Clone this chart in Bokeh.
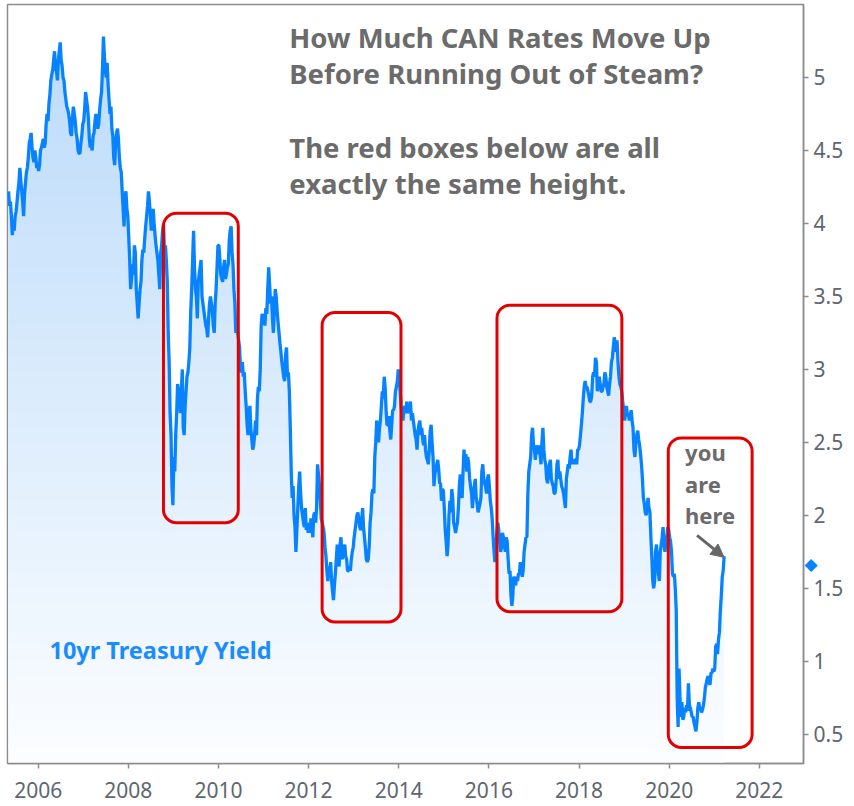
import numpy as np
from bokeh.plotting import figure
from bokeh.models import Range1d, FixedTicker, Label, Arrow, NormalHead, LinearAxis
from bokeh.embed import file_html
from bokeh.resources import INLINE

# 10yr Treasury yield, four readings per month (weekly)
yield_2005 = [4.22, 4.12, 4.15, 4.05, 3.92, 4.02, 3.95, 4.05, 4.08, 4.15, 4.22, 4.28,
              4.38, 4.30, 4.22, 4.15, 4.05, 4.20, 4.28, 4.35, 4.38, 4.45, 4.55, 4.58,
              4.62, 4.52, 4.45, 4.42, 4.50, 4.45, 4.38, 4.40]  # May-Dec
yield_2006 = [4.36, 4.40, 4.50, 4.52, 4.55, 4.58, 4.52, 4.55, 4.68, 4.75, 4.70, 4.82,
              4.88, 4.98, 5.02, 5.05, 5.12, 5.18, 5.05, 5.05, 4.98, 5.12, 5.18, 5.24,
              5.12, 5.08, 5.00, 4.98, 4.90, 4.85, 4.80, 4.78, 4.75, 4.70, 4.62, 4.60,
              4.72, 4.80, 4.75, 4.70, 4.62, 4.58, 4.50, 4.48, 4.48, 4.55, 4.60, 4.68]
yield_2007 = [4.70, 4.78, 4.90, 4.85, 4.80, 4.72, 4.58, 4.52, 4.55, 4.50, 4.60, 4.62,
              4.70, 4.75, 4.68, 4.65, 4.68, 4.78, 4.85, 4.90, 5.05, 5.28, 5.15, 5.05,
              5.00, 5.10, 4.95, 4.85, 4.75, 4.80, 4.65, 4.60, 4.45, 4.40, 4.55, 4.62,
              4.65, 4.58, 4.45, 4.38, 4.35, 4.22, 4.10, 3.98, 4.18, 4.22, 4.10, 4.05]
yield_2008 = [3.90, 3.75, 3.55, 3.62, 3.72, 3.65, 3.85, 3.80, 3.55, 3.45, 3.35, 3.45,
              3.55, 3.60, 3.75, 3.82, 3.80, 3.90, 3.98, 4.05, 4.12, 4.22, 4.15, 4.05,
              3.95, 4.05, 4.10, 4.00, 3.92, 3.85, 3.80, 3.75, 3.65, 3.55, 3.80, 3.85,
              3.95, 4.00, 3.80, 3.85, 3.75, 3.60, 3.25, 3.05, 2.70, 2.55, 2.20, 2.07]
yield_2009 = [2.40, 2.30, 2.55, 2.70, 2.90, 2.85, 2.80, 2.70, 2.85, 3.00, 2.60, 2.55,
              2.75, 2.85, 2.95, 2.98, 3.05, 3.15, 3.40, 3.55, 3.75, 3.95, 3.70, 3.55,
              3.50, 3.35, 3.60, 3.65, 3.70, 3.75, 3.50, 3.45, 3.40, 3.35, 3.30, 3.28,
              3.22, 3.35, 3.45, 3.50, 3.45, 3.40, 3.30, 3.25, 3.45, 3.55, 3.70, 3.85]
yield_2010 = [3.85, 3.75, 3.65, 3.62, 3.60, 3.70, 3.75, 3.62, 3.65, 3.70, 3.72, 3.88,
              3.95, 3.98, 3.80, 3.72, 3.55, 3.45, 3.25, 3.30, 3.25, 3.20, 3.15, 3.00,
              2.98, 3.05, 2.95, 2.98, 2.85, 2.75, 2.62, 2.55, 2.70, 2.75, 2.60, 2.52,
              2.45, 2.48, 2.55, 2.65, 2.55, 2.80, 2.88, 2.85, 3.00, 3.30, 3.38, 3.35]
yield_2011 = [3.35, 3.30, 3.42, 3.38, 3.55, 3.70, 3.58, 3.45, 3.50, 3.35, 3.25, 3.40,
              3.55, 3.50, 3.40, 3.32, 3.25, 3.18, 3.12, 3.05, 3.00, 2.95, 2.92, 3.10,
              3.15, 2.95, 2.98, 2.85, 2.60, 2.30, 2.12, 2.20, 2.00, 1.92, 1.75, 1.90,
              2.05, 2.20, 2.30, 2.15, 2.05, 2.00, 1.95, 1.92, 2.05, 1.90, 1.95, 1.88]
yield_2012 = [1.95, 1.88, 1.98, 1.92, 1.85, 2.00, 2.02, 1.95, 2.05, 2.35, 2.28, 2.20,
              2.10, 1.98, 1.95, 1.92, 1.88, 1.78, 1.72, 1.62, 1.55, 1.65, 1.62, 1.68,
              1.55, 1.48, 1.42, 1.52, 1.60, 1.70, 1.80, 1.68, 1.65, 1.80, 1.85, 1.70,
              1.72, 1.75, 1.80, 1.72, 1.70, 1.62, 1.62, 1.65, 1.62, 1.70, 1.75, 1.78]
yield_2013 = [1.85, 1.90, 1.95, 2.00, 2.02, 1.98, 1.92, 1.90, 1.95, 2.05, 1.92, 1.85,
              1.78, 1.70, 1.68, 1.70, 1.78, 1.95, 2.02, 2.15, 2.18, 2.15, 2.40, 2.50,
              2.65, 2.58, 2.50, 2.60, 2.65, 2.75, 2.85, 2.80, 2.95, 2.88, 2.72, 2.62,
              2.62, 2.68, 2.58, 2.52, 2.62, 2.72, 2.72, 2.75, 2.85, 2.88, 2.92, 3.00]
yield_2014 = [2.95, 2.85, 2.75, 2.70, 2.65, 2.72, 2.75, 2.70, 2.78, 2.70, 2.75, 2.72,
              2.78, 2.65, 2.70, 2.65, 2.60, 2.55, 2.52, 2.45, 2.58, 2.62, 2.65, 2.55,
              2.60, 2.52, 2.48, 2.55, 2.45, 2.40, 2.38, 2.35, 2.45, 2.58, 2.62, 2.50,
              2.40, 2.20, 2.28, 2.32, 2.35, 2.38, 2.32, 2.22, 2.22, 2.10, 2.18, 2.17]
yield_2015 = [2.05, 1.90, 1.82, 1.72, 1.80, 2.00, 2.10, 2.02, 2.18, 2.12, 1.95, 1.92,
              1.88, 1.92, 1.95, 2.05, 2.20, 2.28, 2.15, 2.12, 2.30, 2.45, 2.35, 2.42,
              2.30, 2.40, 2.35, 2.25, 2.20, 2.15, 2.05, 2.15, 2.20, 2.25, 2.12, 2.08,
              2.02, 2.05, 2.08, 2.12, 2.30, 2.35, 2.25, 2.22, 2.20, 2.15, 2.25, 2.28]
yield_2016 = [2.20, 2.10, 2.05, 1.98, 1.85, 1.75, 1.68, 1.78, 1.88, 1.95, 1.90, 1.82,
              1.75, 1.78, 1.88, 1.85, 1.80, 1.75, 1.85, 1.82, 1.70, 1.60, 1.62, 1.45,
              1.38, 1.45, 1.58, 1.55, 1.52, 1.58, 1.55, 1.60, 1.60, 1.68, 1.62, 1.58,
              1.62, 1.75, 1.80, 1.85, 1.85, 2.15, 2.30, 2.35, 2.40, 2.55, 2.60, 2.48]
yield_2017 = [2.45, 2.38, 2.48, 2.45, 2.42, 2.48, 2.42, 2.35, 2.50, 2.60, 2.45, 2.38,
              2.35, 2.25, 2.22, 2.30, 2.35, 2.38, 2.25, 2.22, 2.20, 2.15, 2.15, 2.22,
              2.35, 2.38, 2.25, 2.30, 2.25, 2.20, 2.18, 2.15, 2.10, 2.05, 2.25, 2.30,
              2.35, 2.32, 2.40, 2.45, 2.35, 2.38, 2.35, 2.38, 2.38, 2.35, 2.45, 2.45]
yield_2018 = [2.48, 2.55, 2.62, 2.70, 2.80, 2.88, 2.92, 2.88, 2.88, 2.85, 2.82, 2.78,
              2.78, 2.82, 2.95, 2.98, 2.95, 3.08, 3.05, 2.85, 2.92, 2.95, 2.90, 2.85,
              2.85, 2.88, 2.90, 2.98, 2.95, 2.88, 2.85, 2.82, 2.90, 2.95, 3.05, 3.08,
              3.15, 3.22, 3.18, 3.12, 3.20, 3.05, 2.95, 2.90, 2.88, 2.85, 2.78, 2.72]
yield_2019 = [2.65, 2.70, 2.75, 2.68, 2.70, 2.65, 2.68, 2.72, 2.65, 2.60, 2.45, 2.40,
              2.50, 2.55, 2.58, 2.52, 2.48, 2.42, 2.35, 2.25, 2.12, 2.08, 2.02, 2.00,
              2.05, 2.12, 2.05, 2.02, 1.85, 1.72, 1.55, 1.50, 1.55, 1.75, 1.80, 1.68,
              1.60, 1.55, 1.75, 1.80, 1.85, 1.92, 1.80, 1.75, 1.82, 1.85, 1.92, 1.90]
yield_2020 = [1.85, 1.82, 1.75, 1.60, 1.58, 1.60, 1.50, 1.35, 0.75, 0.55, 0.95, 0.75,
              0.62, 0.72, 0.60, 0.62, 0.68, 0.65, 0.70, 0.66, 0.85, 0.70, 0.68, 0.65,
              0.62, 0.62, 0.58, 0.55, 0.52, 0.58, 0.68, 0.72, 0.68, 0.68, 0.65, 0.67,
              0.70, 0.75, 0.82, 0.85, 0.88, 0.90, 0.85, 0.84, 0.92, 0.92, 0.95, 0.93]
yield_2021 = [0.95, 1.10, 1.12, 1.05, 1.15, 1.20, 1.35, 1.45, 1.58, 1.62, 1.72]  # Jan-Mar

yearly = [(2005, 4, yield_2005), (2006, 0, yield_2006), (2007, 0, yield_2007),
          (2008, 0, yield_2008), (2009, 0, yield_2009), (2010, 0, yield_2010),
          (2011, 0, yield_2011), (2012, 0, yield_2012), (2013, 0, yield_2013),
          (2014, 0, yield_2014), (2015, 0, yield_2015), (2016, 0, yield_2016),
          (2017, 0, yield_2017), (2018, 0, yield_2018), (2019, 0, yield_2019),
          (2020, 0, yield_2020), (2021, 0, yield_2021)]

x_ticks = [2006, 2008, 2010, 2012, 2014, 2016, 2018, 2020, 2022]
x_tick_labels = ["2006", "2008", "2010", "2012", "2014", "2016", "2018", "2020", "2022"]
y_ticks = [0.5, 1.0, 1.5, 2.0, 2.5, 3.0, 3.5, 4.0, 4.5, 5.0]
y_tick_labels = ["0.5", "1", "1.5", "2", "2.5", "3", "3.5", "4", "4.5", "5"]

# highlighted periods (red boxes), all the same height
box_left = [2008.78, 2012.30, 2016.18, 2019.98]
box_right = [2010.44, 2014.05, 2018.95, 2021.84]
box_bottom = [1.95, 1.27, 1.34, 0.41]
box_top = [4.07, 3.39, 3.44, 2.53]

last_marker = 1.67

# ---- build series (weekly positions within each month) ----
xs, ys = [], []
for yr, m0, vals in yearly:
    for i, v in enumerate(vals):
        m = m0 + i // 4
        w = i % 4
        xs.append(yr + (m + (w + 0.5) / 4.0) / 12.0)
        ys.append(v)
xs = np.array(xs)
ys = np.array(ys)

Y0, Y1 = 0.3, 5.5
p = figure(width=854, height=806, x_range=Range1d(2005.32, 2022.98), y_range=Range1d(Y0, Y1),
           output_backend="svg", toolbar_location=None, y_axis_location="right",
           min_border_left=7, min_border_top=4, min_border_right=51, min_border_bottom=43)
p.background_fill_color = "white"
p.border_fill_color = "white"
p.outline_line_color = "#8c8c8c"
p.outline_line_width = 1.5
p.xgrid.visible = False
p.ygrid.visible = False

# gradient fill under the curve (layered bands)
top_c = np.array([184, 217, 250])
bot_c = np.array([251, 253, 255])
levels = np.arange(Y0, 5.45, 0.1)
for lv in levels:
    t = (lv - Y0) / (Y1 - Y0)
    c = bot_c + (top_c - bot_c) * t
    col = "#%02x%02x%02x" % tuple(int(round(v)) for v in c)
    p.varea(x=xs, y1=np.full_like(ys, lv), y2=np.maximum(ys, lv), fill_color=col, fill_alpha=1.0)

p.line(xs, ys, line_color="#0783ff", line_width=3.3)

p.quad(left=box_left, right=box_right, bottom=box_bottom, top=box_top,
       fill_alpha=0, line_color="#e30000", line_width=3, border_radius=13)

# axes
for ax in (p.xaxis[0], p.yaxis[0]):
    ax.axis_line_color = "#8c8c8c"
    ax.axis_line_width = 1.5
    ax.major_tick_line_color = "#8c8c8c"
    ax.major_tick_line_width = 1.5
    ax.major_tick_out = 5
    ax.major_tick_in = 0
    ax.minor_tick_line_color = None
    ax.major_label_text_font = "Noto Sans"
    ax.major_label_text_font_size = "21px"
    ax.major_label_text_color = "#5e6670"

p.xaxis[0].ticker = FixedTicker(ticks=x_ticks)
p.xaxis[0].major_label_overrides = {t: l for t, l in zip(x_ticks, x_tick_labels)}
p.xaxis[0].major_label_standoff = 13
p.yaxis[0].ticker = FixedTicker(ticks=y_ticks)
p.yaxis[0].major_label_overrides = {t: l for t, l in zip(y_ticks, y_tick_labels)}
p.yaxis[0].major_label_standoff = 5

# last-value marker: an extra right axis carrying one blue diamond label,
# pulled back against the main axis with a negative standoff
marker_axis = LinearAxis(ticker=FixedTicker(ticks=[last_marker]),
                         major_label_overrides={last_marker: "◆"},
                         axis_line_color=None, major_tick_line_color=None,
                         minor_tick_line_color=None, major_tick_out=0, major_tick_in=0,
                         major_label_standoff=-42, major_label_text_color="#0783ff",
                         major_label_text_font="DejaVu Sans",
                         major_label_text_font_size="17px")
p.add_layout(marker_axis, "right")


def px2x(px):
    return 2006 + (px - 37.7) / 45.1


def py2y(py):
    return 5 - (py - 77) / 146.0


title_font = "Noto Sans"
grey = "#6b6b6b"
title_lines = [("How Much CAN Rates Move Up", 37), ("Before Running Out of Steam?", 73),
               ("The red boxes below are all", 147), ("exactly the same height.", 183)]
for txt, by in title_lines:
    p.add_layout(Label(x=px2x(289), y=py2y(by), text=txt, text_font=title_font,
                       text_font_style="bold", text_font_size="27.5px", text_color=grey,
                       text_baseline="alphabetic", text_align="left"))

p.add_layout(Label(x=px2x(49), y=py2y(650), text="10yr Treasury Yield", text_font=title_font,
                   text_font_style="bold", text_font_size="23.5px", text_color="#1a8cff",
                   text_baseline="alphabetic", text_align="left"))

for txt, by in [("you", 452), ("are", 484), ("here", 515)]:
    p.add_layout(Label(x=px2x(685), y=py2y(by), text=txt, text_font=title_font,
                       text_font_style="bold", text_font_size="22px", text_color=grey,
                       text_baseline="alphabetic", text_align="left"))

p.add_layout(Arrow(x_start=px2x(697), y_start=py2y(535), x_end=px2x(724), y_end=py2y(557),
                   line_color="#666666", line_width=3,
                   end=NormalHead(size=13, fill_color="#666666", line_color="#666666")))

open("out.html", "w").write(file_html(p, INLINE))
